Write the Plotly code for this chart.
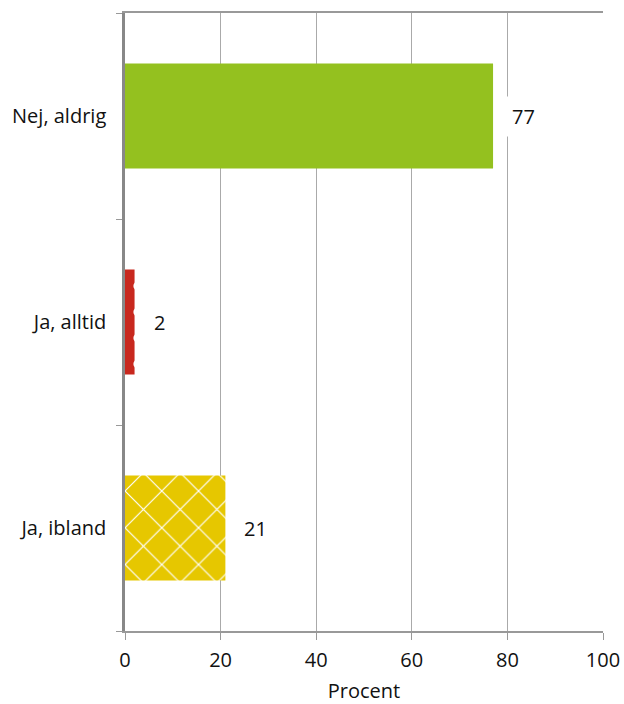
import plotly.graph_objects as go

categories = ["Ja, ibland", "Ja, alltid", "Nej, aldrig"]
values = [21, 2, 77]
colors = ["#E6C700", "#C8281E", "#94C11F"]
patterns = ["x", ".", ""]
pattern_sizes = [26, 26, 10]
pattern_solidity = [0.09, 0.1, 0.2]
x_ticks = [0, 20, 40, 60, 80, 100]

fig = go.Figure()
for c, v, col, pat, ps, sol in zip(categories, values, colors, patterns,
                                     pattern_sizes, pattern_solidity):
    fig.add_trace(go.Bar(
        y=[c], x=[v], orientation="h",
        marker=dict(
            color=col, line=dict(width=0),
            pattern=dict(shape=pat, fgcolor="white", fgopacity=1,
                         size=ps, solidity=sol, fillmode="overlay"),
        ),
        width=0.51, hoverinfo="skip",
    ))

for c, v in zip(categories, values):
    fig.add_annotation(x=v, y=c, text=str(v), showarrow=False, xanchor="left",
                       xshift=12, bgcolor="white", borderpad=6,
                       font=dict(size=20, color="#111"))

font = "Open Sans, Noto Sans, sans-serif"
fig.update_layout(
    width=624, height=704,
    margin=dict(l=125, r=21, t=13, b=73),
    plot_bgcolor="white", paper_bgcolor="white",
    font=dict(family=font, size=20, color="#111"),
    showlegend=False, barmode="overlay",
    xaxis=dict(range=[0, 100], tickvals=x_ticks, showgrid=True, gridcolor="#AAAAAA",
               gridwidth=1.2, showline=True, linecolor="#999999", linewidth=1.5,
               mirror=True, ticks="outside", ticklen=7, tickcolor="#999999",
               tickfont=dict(size=20), zeroline=False, automargin=False,
               ticklabelstandoff=3,
               title=dict(text="Procent", font=dict(size=20), standoff=14)),
    yaxis=dict(categoryorder="array", categoryarray=categories, showgrid=False,
               showline=True, linecolor="#888888", linewidth=2.5, ticks="outside",
               tickson="boundaries", ticklen=6, tickcolor="#999999", automargin=False,
               tickfont=dict(size=20), ticklabelstandoff=12, range=[-0.5, 2.5]),
)

fig.write_html("out.html", config={"displayModeBar": False},
               post_script="document.body.style.margin='0';document.body.style.overflow='hidden';")
